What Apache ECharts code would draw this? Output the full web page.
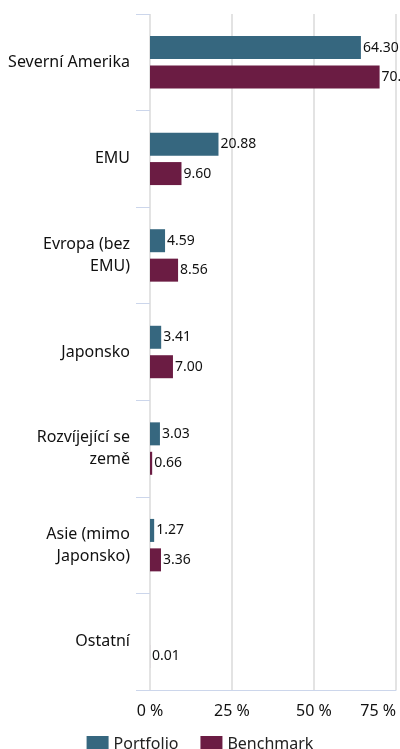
<!DOCTYPE html>
<html>
<head>
<meta charset="utf-8">
<script src="https://cdn.jsdelivr.net/npm/echarts@6/dist/echarts.min.js"></script>
<style>
  html, body { margin: 0; padding: 0; background: #fff; }
</style>
</head>
<body>
<div id="main" style="width: 400px; height: 749px;"></div>
<script>
var categories = ['Severní Amerika', 'EMU', 'Evropa (bez\nEMU)', 'Japonsko', 'Rozvíjející se\nzemě', 'Asie (mimo\nJaponsko)', 'Ostatní'];
var portfolio = [64.30, 20.88, 4.59, 3.41, 3.03, 1.27, null];
var benchmark = [70.00, 9.60, 8.56, 7.00, 0.66, 3.36, 0.01];
var xTicks = [0, 25, 50, 75];

var myChart = echarts.init(document.getElementById('main'));

var labelStyle = {
  show: true,
  position: 'right',
  distance: 2,
  color: '#111',
  fontSize: 14,
  fontFamily: 'Noto Sans',
  formatter: function (p) { return p.value == null ? '' : p.value.toFixed(2); }
};

var option = {
  animation: false,
  grid: { left: 150, right: 4, top: 14, bottom: 59 },
  legend: {
    top: 731,
    left: 'center',
    itemWidth: 22,
    itemHeight: 16,
    itemGap: 22,
    icon: 'rect',
    textStyle: { color: '#222', fontSize: 16, fontFamily: 'Noto Sans' },
    data: ['Portfolio', 'Benchmark']
  },
  xAxis: {
    type: 'value',
    min: xTicks[0],
    max: xTicks[xTicks.length - 1],
    interval: 25,
    axisLine: { show: true, lineStyle: { color: '#ccd6eb', width: 1 } },
    axisTick: { show: false },
    axisLabel: {
      color: '#111',
      fontSize: 16,
      fontFamily: 'Noto Sans',
      margin: 13,
      alignMaxLabel: 'right',
      formatter: '{value} %'
    },
    splitLine: { show: true, lineStyle: { color: '#dadada', width: 1.5 } }
  },
  yAxis: {
    type: 'category',
    inverse: true,
    data: categories,
    axisLine: { show: false },
    axisTick: { show: true, length: 14, lineStyle: { color: '#ccd6eb' } },
    axisLabel: {
      color: '#111',
      fontSize: 16,
      fontFamily: 'Noto Sans',
      lineHeight: 22,
      margin: 20,
      align: 'right'
    }
  },
  series: [
    {
      name: 'Portfolio',
      type: 'bar',
      data: portfolio,
      barWidth: 23,
      barGap: '28%',
      itemStyle: { color: '#36677f' },
      label: labelStyle
    },
    {
      name: 'Benchmark',
      type: 'bar',
      data: benchmark,
      barWidth: 23,
      barGap: '28%',
      itemStyle: { color: '#6b1c43' },
      label: labelStyle
    }
  ]
};

myChart.setOption(option);
</script>
</body>
</html>
